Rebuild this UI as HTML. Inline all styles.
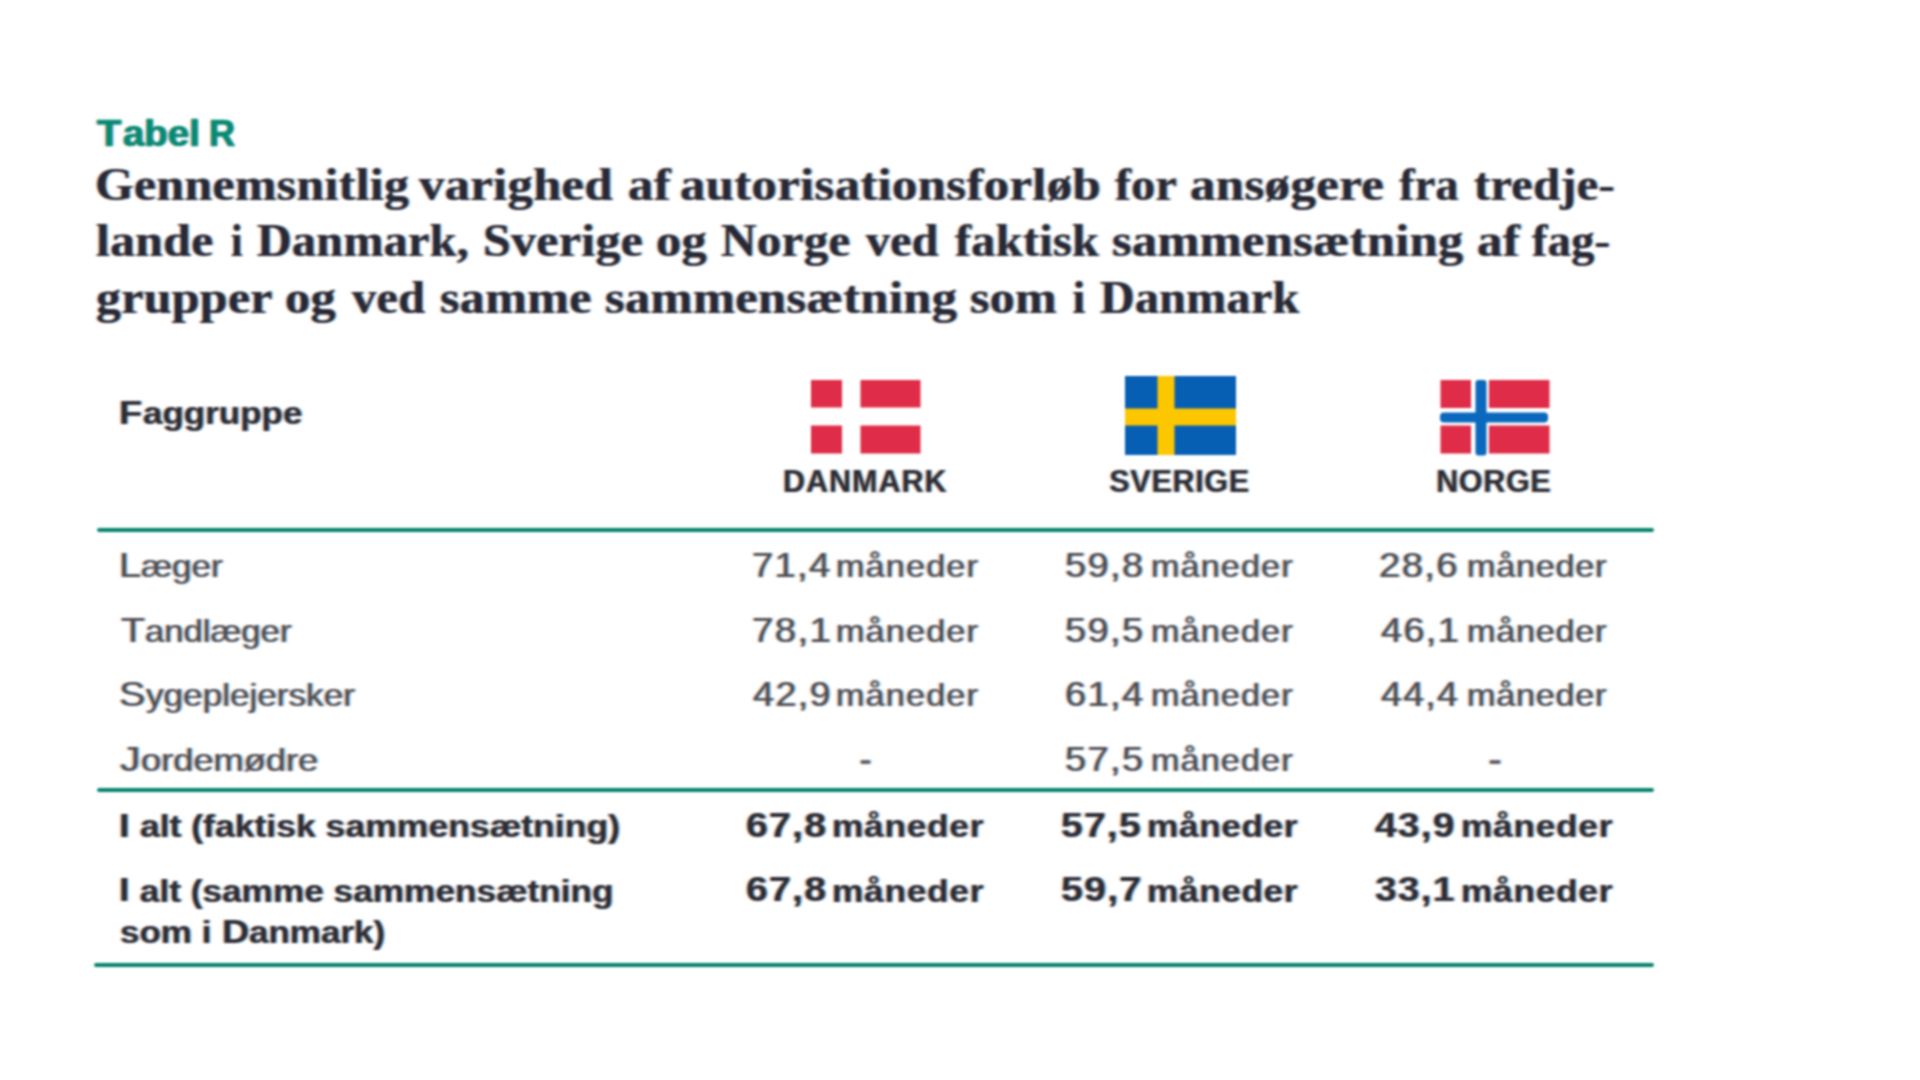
<!DOCTYPE html>
<html lang="da"><head><meta charset="utf-8"><title>Tabel R</title>
<style>
html,body{margin:0;padding:0;background:#fff;}
body{width:1920px;height:1080px;position:relative;overflow:hidden;}
.t{position:absolute;white-space:pre;transform-origin:0 0;text-shadow:-1.6px 0 rgba(235,145,70,.6),1.6px 0 rgba(50,160,240,.6);}
#w{position:absolute;left:0;top:0;width:1920px;height:1080px;filter:blur(1px);}

.ln{position:absolute;background:#04836d;border-radius:2px;}
.flag{position:absolute;display:block;}
.dash{position:absolute;width:9.5px;height:4.2px;background:#60606a;border-radius:1px;box-shadow:-1.6px 0 0 rgba(235,145,70,.55),1.6px 0 0 rgba(50,160,240,.55);}
</style></head><body><div id="w">
<div class="t" style="left:96.85px;top:111.70px;font-family:'Liberation Sans', sans-serif;font-size:37px;font-weight:700;color:#068a74;line-height:44px;transform:scaleX(1.0740);-webkit-text-stroke:0.5px #068a74;">T</div>
<div class="t" style="left:123.17px;top:111.70px;font-family:'Liberation Sans', sans-serif;font-size:37px;font-weight:700;color:#068a74;line-height:44px;transform:scaleX(1.0379);-webkit-text-stroke:0.5px #068a74;">abel</div>
<div class="t" style="left:208.58px;top:111.70px;font-family:'Liberation Sans', sans-serif;font-size:37px;font-weight:700;color:#068a74;line-height:44px;transform:scaleX(0.9793);-webkit-text-stroke:0.5px #068a74;">R</div>
<div class="t" style="left:94.57px;top:157.00px;font-family:'Liberation Serif', serif;font-size:46px;font-weight:700;color:#282836;line-height:55px;letter-spacing:0.300px;transform:scaleX(1.0831);">Gennemsnitlig</div>
<div class="t" style="left:419.00px;top:157.00px;font-family:'Liberation Serif', serif;font-size:46px;font-weight:700;color:#282836;line-height:55px;letter-spacing:0.300px;transform:scaleX(1.1006);">varighed</div>
<div class="t" style="left:628.36px;top:157.00px;font-family:'Liberation Serif', serif;font-size:46px;font-weight:700;color:#282836;line-height:55px;letter-spacing:0.300px;transform:scaleX(1.1042);">af</div>
<div class="t" style="left:680.36px;top:157.00px;font-family:'Liberation Serif', serif;font-size:46px;font-weight:700;color:#282836;line-height:55px;letter-spacing:0.300px;transform:scaleX(1.1039);">autorisationsforløb</div>
<div class="t" style="left:1114.65px;top:157.00px;font-family:'Liberation Serif', serif;font-size:46px;font-weight:700;color:#282836;line-height:55px;letter-spacing:0.300px;transform:scaleX(1.0412);">for</div>
<div class="t" style="left:1190.06px;top:157.00px;font-family:'Liberation Serif', serif;font-size:46px;font-weight:700;color:#282836;line-height:55px;letter-spacing:0.300px;transform:scaleX(1.1071);">ansøgere</div>
<div class="t" style="left:1399.26px;top:157.00px;font-family:'Liberation Serif', serif;font-size:46px;font-weight:700;color:#282836;line-height:55px;letter-spacing:0.249px;">fra</div>
<div class="t" style="left:1474.22px;top:157.00px;font-family:'Liberation Serif', serif;font-size:46px;font-weight:700;color:#282836;line-height:55px;letter-spacing:0.300px;transform:scaleX(1.0517);">tredje-</div>
<div class="t" style="left:96.43px;top:212.50px;font-family:'Liberation Serif', serif;font-size:46px;font-weight:700;color:#282836;line-height:55px;letter-spacing:0.300px;transform:scaleX(1.0801);">lande</div>
<div class="t" style="left:231.09px;top:212.50px;font-family:'Liberation Serif', serif;font-size:46px;font-weight:700;color:#282836;line-height:55px;transform:scaleX(0.9012);">i</div>
<div class="t" style="left:257.36px;top:212.50px;font-family:'Liberation Serif', serif;font-size:46px;font-weight:700;color:#282836;line-height:55px;letter-spacing:0.300px;transform:scaleX(1.0447);">Danmark,</div>
<div class="t" style="left:483.34px;top:212.50px;font-family:'Liberation Serif', serif;font-size:46px;font-weight:700;color:#282836;line-height:55px;letter-spacing:0.300px;transform:scaleX(1.0850);">Sverige</div>
<div class="t" style="left:656.28px;top:212.50px;font-family:'Liberation Serif', serif;font-size:46px;font-weight:700;color:#282836;line-height:55px;letter-spacing:0.300px;transform:scaleX(1.0953);">og</div>
<div class="t" style="left:720.67px;top:212.50px;font-family:'Liberation Serif', serif;font-size:46px;font-weight:700;color:#282836;line-height:55px;letter-spacing:0.300px;transform:scaleX(1.0664);">Norge</div>
<div class="t" style="left:866.00px;top:212.50px;font-family:'Liberation Serif', serif;font-size:46px;font-weight:700;color:#282836;line-height:55px;letter-spacing:0.300px;transform:scaleX(1.0422);">ved</div>
<div class="t" style="left:955.05px;top:212.50px;font-family:'Liberation Serif', serif;font-size:46px;font-weight:700;color:#282836;line-height:55px;letter-spacing:0.300px;transform:scaleX(1.0484);">faktisk</div>
<div class="t" style="left:1112.47px;top:212.50px;font-family:'Liberation Serif', serif;font-size:46px;font-weight:700;color:#282836;line-height:55px;letter-spacing:0.300px;transform:scaleX(1.0958);">sammensætning</div>
<div class="t" style="left:1476.76px;top:212.50px;font-family:'Liberation Serif', serif;font-size:46px;font-weight:700;color:#282836;line-height:55px;letter-spacing:0.300px;transform:scaleX(1.1095);">af</div>
<div class="t" style="left:1531.66px;top:212.50px;font-family:'Liberation Serif', serif;font-size:46px;font-weight:700;color:#282836;line-height:55px;letter-spacing:0.300px;transform:scaleX(1.0064);">fag-</div>
<div class="t" style="left:96.09px;top:269.50px;font-family:'Liberation Serif', serif;font-size:46px;font-weight:700;color:#282836;line-height:55px;letter-spacing:0.300px;transform:scaleX(1.0841);">grupper</div>
<div class="t" style="left:284.68px;top:269.50px;font-family:'Liberation Serif', serif;font-size:46px;font-weight:700;color:#282836;line-height:55px;letter-spacing:0.300px;transform:scaleX(1.0975);">og</div>
<div class="t" style="left:352.30px;top:269.50px;font-family:'Liberation Serif', serif;font-size:46px;font-weight:700;color:#282836;line-height:55px;letter-spacing:0.300px;transform:scaleX(1.0480);">ved</div>
<div class="t" style="left:440.48px;top:269.50px;font-family:'Liberation Serif', serif;font-size:46px;font-weight:700;color:#282836;line-height:55px;letter-spacing:0.300px;transform:scaleX(1.0881);">samme</div>
<div class="t" style="left:605.27px;top:269.50px;font-family:'Liberation Serif', serif;font-size:46px;font-weight:700;color:#282836;line-height:55px;letter-spacing:0.300px;transform:scaleX(1.0980);">sammensætning</div>
<div class="t" style="left:970.29px;top:269.50px;font-family:'Liberation Serif', serif;font-size:46px;font-weight:700;color:#282836;line-height:55px;letter-spacing:0.300px;transform:scaleX(1.0871);">som</div>
<div class="t" style="left:1072.49px;top:269.50px;font-family:'Liberation Serif', serif;font-size:46px;font-weight:700;color:#282836;line-height:55px;">i</div>
<div class="t" style="left:1100.06px;top:269.50px;font-family:'Liberation Serif', serif;font-size:46px;font-weight:700;color:#282836;line-height:55px;letter-spacing:0.300px;transform:scaleX(1.0434);">Danmark</div>
<div class="t" style="left:119.47px;top:391.50px;font-family:'Liberation Sans', sans-serif;font-size:34px;font-weight:700;color:#2d2d37;line-height:41px;transform:scaleX(1.1105);">F</div>
<div class="t" style="left:142.54px;top:394.00px;font-family:'Liberation Sans', sans-serif;font-size:31.5px;font-weight:700;color:#2d2d37;line-height:38px;transform:scaleX(1.1105);">aggruppe</div>
<div class="t" style="left:782.96px;top:462.50px;font-family:'Liberation Sans', sans-serif;font-size:30.5px;font-weight:700;color:#2d2d37;line-height:37px;letter-spacing:0.993px;">DANMARK</div>
<div class="t" style="left:1109.32px;top:462.50px;font-family:'Liberation Sans', sans-serif;font-size:30.5px;font-weight:700;color:#2d2d37;line-height:37px;letter-spacing:0.696px;">SVERIGE</div>
<div class="t" style="left:1436.16px;top:462.50px;font-family:'Liberation Sans', sans-serif;font-size:30.5px;font-weight:700;color:#2d2d37;line-height:37px;letter-spacing:0.672px;">NORGE</div>
<div class="t" style="left:118.96px;top:544.50px;font-family:'Liberation Sans', sans-serif;font-size:34.5px;font-weight:400;color:#4b4b54;line-height:41px;transform:scaleX(1.1464);">L</div>
<div class="t" style="left:140.95px;top:547.50px;font-family:'Liberation Sans', sans-serif;font-size:30.5px;font-weight:400;color:#4b4b54;line-height:37px;transform:scaleX(1.1464);">æger</div>
<div class="t" style="left:751.85px;top:544.50px;font-family:'Liberation Sans', sans-serif;font-size:34.5px;font-weight:400;color:#4b4b54;line-height:41px;letter-spacing:1.200px;transform:scaleX(1.1035);">71,4</div>
<div class="t" style="left:836.03px;top:547.50px;font-family:'Liberation Sans', sans-serif;font-size:30.5px;font-weight:400;color:#4b4b54;line-height:37px;letter-spacing:1.044px;transform:scaleX(1.1200);">måneder</div>
<div class="t" style="left:1065.27px;top:544.50px;font-family:'Liberation Sans', sans-serif;font-size:34.5px;font-weight:400;color:#4b4b54;line-height:41px;letter-spacing:1.200px;transform:scaleX(1.1051);">59,8</div>
<div class="t" style="left:1150.73px;top:547.50px;font-family:'Liberation Sans', sans-serif;font-size:30.5px;font-weight:400;color:#4b4b54;line-height:37px;letter-spacing:0.999px;transform:scaleX(1.1200);">måneder</div>
<div class="t" style="left:1379.47px;top:544.50px;font-family:'Liberation Sans', sans-serif;font-size:34.5px;font-weight:400;color:#4b4b54;line-height:41px;letter-spacing:1.200px;transform:scaleX(1.1112);">28,6</div>
<div class="t" style="left:1467.03px;top:547.50px;font-family:'Liberation Sans', sans-serif;font-size:30.5px;font-weight:400;color:#4b4b54;line-height:37px;letter-spacing:0.672px;transform:scaleX(1.1200);">måneder</div>
<div class="t" style="left:120.92px;top:609.50px;font-family:'Liberation Sans', sans-serif;font-size:34.5px;font-weight:400;color:#4b4b54;line-height:41px;transform:scaleX(1.1362);">T</div>
<div class="t" style="left:144.86px;top:612.50px;font-family:'Liberation Sans', sans-serif;font-size:30.5px;font-weight:400;color:#4b4b54;line-height:37px;transform:scaleX(1.1362);">andlæger</div>
<div class="t" style="left:751.83px;top:609.50px;font-family:'Liberation Sans', sans-serif;font-size:34.5px;font-weight:400;color:#4b4b54;line-height:41px;letter-spacing:1.200px;transform:scaleX(1.1145);">78,1</div>
<div class="t" style="left:836.03px;top:612.50px;font-family:'Liberation Sans', sans-serif;font-size:30.5px;font-weight:400;color:#4b4b54;line-height:37px;letter-spacing:1.044px;transform:scaleX(1.1200);">måneder</div>
<div class="t" style="left:1065.27px;top:609.50px;font-family:'Liberation Sans', sans-serif;font-size:34.5px;font-weight:400;color:#4b4b54;line-height:41px;letter-spacing:1.200px;transform:scaleX(1.1043);">59,5</div>
<div class="t" style="left:1150.73px;top:612.50px;font-family:'Liberation Sans', sans-serif;font-size:30.5px;font-weight:400;color:#4b4b54;line-height:37px;letter-spacing:0.999px;transform:scaleX(1.1200);">måneder</div>
<div class="t" style="left:1380.53px;top:609.50px;font-family:'Liberation Sans', sans-serif;font-size:34.5px;font-weight:400;color:#4b4b54;line-height:41px;letter-spacing:1.200px;transform:scaleX(1.0986);">46,1</div>
<div class="t" style="left:1467.03px;top:612.50px;font-family:'Liberation Sans', sans-serif;font-size:30.5px;font-weight:400;color:#4b4b54;line-height:37px;letter-spacing:0.672px;transform:scaleX(1.1200);">måneder</div>
<div class="t" style="left:119.20px;top:673.90px;font-family:'Liberation Sans', sans-serif;font-size:34.5px;font-weight:400;color:#4b4b54;line-height:41px;transform:scaleX(1.1516);">S</div>
<div class="t" style="left:145.70px;top:676.90px;font-family:'Liberation Sans', sans-serif;font-size:30.5px;font-weight:400;color:#4b4b54;line-height:37px;transform:scaleX(1.1516);">ygeplejersker</div>
<div class="t" style="left:752.93px;top:673.90px;font-family:'Liberation Sans', sans-serif;font-size:34.5px;font-weight:400;color:#4b4b54;line-height:41px;letter-spacing:1.200px;transform:scaleX(1.0978);">42,9</div>
<div class="t" style="left:836.03px;top:676.90px;font-family:'Liberation Sans', sans-serif;font-size:30.5px;font-weight:400;color:#4b4b54;line-height:37px;letter-spacing:1.044px;transform:scaleX(1.1200);">måneder</div>
<div class="t" style="left:1064.87px;top:673.90px;font-family:'Liberation Sans', sans-serif;font-size:34.5px;font-weight:400;color:#4b4b54;line-height:41px;letter-spacing:1.200px;transform:scaleX(1.1032);">61,4</div>
<div class="t" style="left:1150.73px;top:676.90px;font-family:'Liberation Sans', sans-serif;font-size:30.5px;font-weight:400;color:#4b4b54;line-height:37px;letter-spacing:0.999px;transform:scaleX(1.1200);">måneder</div>
<div class="t" style="left:1380.54px;top:673.90px;font-family:'Liberation Sans', sans-serif;font-size:34.5px;font-weight:400;color:#4b4b54;line-height:41px;letter-spacing:1.200px;transform:scaleX(1.0878);">44,4</div>
<div class="t" style="left:1467.03px;top:676.90px;font-family:'Liberation Sans', sans-serif;font-size:30.5px;font-weight:400;color:#4b4b54;line-height:37px;letter-spacing:0.672px;transform:scaleX(1.1200);">måneder</div>
<div class="t" style="left:120.36px;top:738.50px;font-family:'Liberation Sans', sans-serif;font-size:34.5px;font-weight:400;color:#4b4b54;line-height:41px;transform:scaleX(1.1883);">J</div>
<div class="t" style="left:140.86px;top:741.50px;font-family:'Liberation Sans', sans-serif;font-size:30.5px;font-weight:400;color:#4b4b54;line-height:37px;transform:scaleX(1.1883);">ordemødre</div>
<div class="dash" style="left:860.65px;top:759.90px"></div>
<div class="t" style="left:1065.27px;top:738.50px;font-family:'Liberation Sans', sans-serif;font-size:34.5px;font-weight:400;color:#4b4b54;line-height:41px;letter-spacing:1.200px;transform:scaleX(1.1043);">57,5</div>
<div class="t" style="left:1150.73px;top:741.50px;font-family:'Liberation Sans', sans-serif;font-size:30.5px;font-weight:400;color:#4b4b54;line-height:37px;letter-spacing:0.999px;transform:scaleX(1.1200);">måneder</div>
<div class="dash" style="left:1490.25px;top:759.90px"></div>
<div class="t" style="left:119.13px;top:804.50px;font-family:'Liberation Sans', sans-serif;font-size:34px;font-weight:700;color:#2d2d37;line-height:41px;transform:scaleX(1.1287);">I</div>
<div class="t" style="left:129.79px;top:807.00px;font-family:'Liberation Sans', sans-serif;font-size:31.5px;font-weight:700;color:#2d2d37;line-height:38px;transform:scaleX(1.1287);"> alt (faktisk sammensætning)</div>
<div class="t" style="left:745.76px;top:804.50px;font-family:'Liberation Sans', sans-serif;font-size:34.5px;font-weight:700;color:#2d2d37;line-height:41px;letter-spacing:1.000px;transform:scaleX(1.1412);">67,8</div>
<div class="t" style="left:832.07px;top:807.00px;font-family:'Liberation Sans', sans-serif;font-size:31.5px;font-weight:700;color:#2d2d37;line-height:38px;letter-spacing:0.639px;transform:scaleX(1.1200);">måneder</div>
<div class="t" style="left:1060.89px;top:804.50px;font-family:'Liberation Sans', sans-serif;font-size:34.5px;font-weight:700;color:#2d2d37;line-height:41px;letter-spacing:1.000px;transform:scaleX(1.1361);">57,5</div>
<div class="t" style="left:1146.97px;top:807.00px;font-family:'Liberation Sans', sans-serif;font-size:31.5px;font-weight:700;color:#2d2d37;line-height:38px;letter-spacing:0.520px;transform:scaleX(1.1200);">måneder</div>
<div class="t" style="left:1375.21px;top:804.50px;font-family:'Liberation Sans', sans-serif;font-size:34.5px;font-weight:700;color:#2d2d37;line-height:41px;letter-spacing:1.000px;transform:scaleX(1.1325);">43,9</div>
<div class="t" style="left:1461.37px;top:807.00px;font-family:'Liberation Sans', sans-serif;font-size:31.5px;font-weight:700;color:#2d2d37;line-height:38px;letter-spacing:0.639px;transform:scaleX(1.1200);">måneder</div>
<div class="t" style="left:119.16px;top:869.00px;font-family:'Liberation Sans', sans-serif;font-size:34px;font-weight:700;color:#2d2d37;line-height:41px;transform:scaleX(1.1183);">I</div>
<div class="t" style="left:129.72px;top:871.50px;font-family:'Liberation Sans', sans-serif;font-size:31.5px;font-weight:700;color:#2d2d37;line-height:38px;transform:scaleX(1.1183);"> alt (samme sammensætning</div>
<div class="t" style="left:745.76px;top:869.00px;font-family:'Liberation Sans', sans-serif;font-size:34.5px;font-weight:700;color:#2d2d37;line-height:41px;letter-spacing:1.000px;transform:scaleX(1.1412);">67,8</div>
<div class="t" style="left:832.07px;top:871.50px;font-family:'Liberation Sans', sans-serif;font-size:31.5px;font-weight:700;color:#2d2d37;line-height:38px;letter-spacing:0.639px;transform:scaleX(1.1200);">måneder</div>
<div class="t" style="left:1060.88px;top:869.00px;font-family:'Liberation Sans', sans-serif;font-size:34.5px;font-weight:700;color:#2d2d37;line-height:41px;letter-spacing:1.000px;transform:scaleX(1.1455);">59,7</div>
<div class="t" style="left:1146.97px;top:871.50px;font-family:'Liberation Sans', sans-serif;font-size:31.5px;font-weight:700;color:#2d2d37;line-height:38px;letter-spacing:0.520px;transform:scaleX(1.1200);">måneder</div>
<div class="t" style="left:1374.90px;top:869.00px;font-family:'Liberation Sans', sans-serif;font-size:34.5px;font-weight:700;color:#2d2d37;line-height:41px;letter-spacing:1.000px;transform:scaleX(1.1317);">33,1</div>
<div class="t" style="left:1461.37px;top:871.50px;font-family:'Liberation Sans', sans-serif;font-size:31.5px;font-weight:700;color:#2d2d37;line-height:38px;letter-spacing:0.639px;transform:scaleX(1.1200);">måneder</div>
<div class="t" style="left:120.47px;top:913.00px;font-family:'Liberation Sans', sans-serif;font-size:31.5px;font-weight:700;color:#2d2d37;line-height:38px;transform:scaleX(1.1110);">som i </div>
<div class="t" style="left:221.60px;top:910.50px;font-family:'Liberation Sans', sans-serif;font-size:34px;font-weight:700;color:#2d2d37;line-height:41px;transform:scaleX(1.1110);">D</div>
<div class="t" style="left:248.88px;top:913.00px;font-family:'Liberation Sans', sans-serif;font-size:31.5px;font-weight:700;color:#2d2d37;line-height:38px;transform:scaleX(1.1110);">anmark)</div>
<div class="ln" style="left:96.5px;top:528.2px;width:1557.5px;height:4.2px"></div>
<div class="ln" style="left:96.5px;top:787.5px;width:1557.5px;height:4.2px"></div>
<div class="ln" style="left:94px;top:962.6px;width:1560px;height:4.2px"></div>

<svg class="flag" style="left:811px;top:380px" width="110" height="74" viewBox="0 0 110 74">
  <rect x="0" y="0" width="31" height="27.5" fill="#df2c48"/>
  <rect x="49.5" y="0" width="60" height="27.5" fill="#df2c48"/>
  <rect x="0" y="45.5" width="31" height="28" fill="#df2c48"/>
  <rect x="49.5" y="45.5" width="60" height="28" fill="#df2c48"/>
</svg>
<svg class="flag" style="left:1125px;top:375.5px" width="111" height="79" viewBox="0 0 111 79">
  <rect x="0" y="0" width="111" height="79" fill="#075fb3"/>
  <rect x="32.5" y="0" width="17" height="79" fill="#fcc600"/>
  <rect x="0" y="32.5" width="111" height="17" fill="#fcc600"/>
</svg>
<svg class="flag" style="left:1440px;top:379.5px" width="110" height="76" viewBox="0 0 110 76">
  <rect x="0.5" y="0" width="30.5" height="28" fill="#df2c48"/>
  <rect x="49" y="0" width="60.5" height="28" fill="#df2c48"/>
  <rect x="0.5" y="45.5" width="30.5" height="28" fill="#df2c48"/>
  <rect x="49" y="45.5" width="60.5" height="28" fill="#df2c48"/>
  <rect x="35.5" y="0" width="11" height="75.5" rx="3" fill="#0a68bd"/>
  <rect x="0" y="32.5" width="108" height="10" rx="4" fill="#0a68bd"/>
</svg>

</div></body></html>
